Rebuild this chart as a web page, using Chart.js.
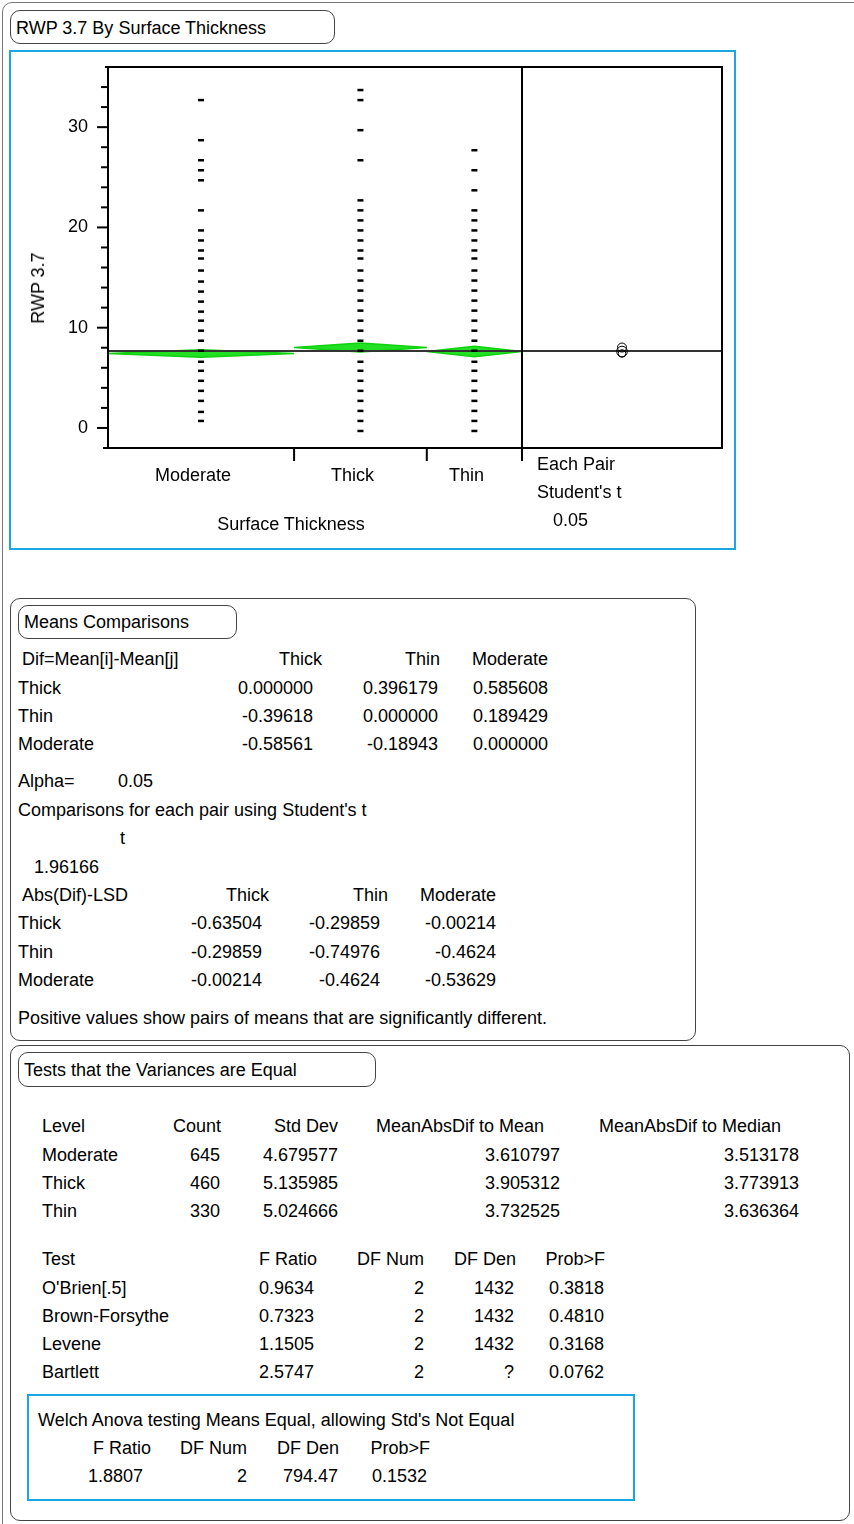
<!DOCTYPE html>
<html>
<head>
<meta charset="utf-8">
<script src="https://cdn.jsdelivr.net/npm/chart.js@4.4.1/dist/chart.umd.min.js"></script>
<style>
  body { margin: 0; background: #fff; }
  #page { position: relative; width: 854px; height: 1524px; overflow: hidden;
    font-family: 'Liberation Sans', Arial, sans-serif; font-size: 18px; color: #000; }
  .box { position: absolute; border: 1px solid #444; border-radius: 10px; box-sizing: border-box; }
  .blue { position: absolute; border: 2px solid #1aa6e2; box-sizing: border-box; }
  .t { position: absolute; white-space: nowrap; line-height: 1; }
  #grafico { position: absolute; left: 11px; top: 52px; }
</style>
</head>
<body>
<div id="page">
  <div class="box" style="left:2px;top:2px;width:900px;height:1600px;border-color:#777"></div>
  <div class="box" style="left:10px;top:10px;width:325px;height:34px"></div>
  <div class="blue" style="left:9px;top:50px;width:727px;height:500px"></div>
  <canvas id="grafico" width="722" height="495"></canvas>

  <div class="box" style="left:10px;top:598px;width:686px;height:443px"></div>
  <div class="box" style="left:18px;top:605px;width:219px;height:34px"></div>

  <div class="box" style="left:10px;top:1045px;width:840px;height:476px"></div>
  <div class="box" style="left:18px;top:1052px;width:358px;height:35px"></div>
  <div class="blue" style="left:27px;top:1394px;width:608px;height:107px"></div>
</div>
<script>
// ── Dados ───────────────────────────────────────────────────────────────────

const levels = ['Moderate', 'Thick', 'Thin']
const counts = [645, 460, 330]
const levelMeans = [7.43, 8.02, 7.62] // (coerentes com a tabela Dif)
const tValue = 1.96166
const stdDevs = [4.679577, 5.135985, 5.024666]

const moderateValues = [32.7, 28.7, 26.7, 25.7, 24.7, 21.7, 19.7, 18.7, 17.7, 16.9,
  15.7, 14.6, 13.6, 12.6, 11.6, 10.7, 9.7, 8.7, 7.7, 6.6, 5.7, 4.7, 3.7, 2.7, 1.6, 0.7]
const thickValues = [33.7, 32.7, 29.7, 26.7, 22.7, 21.7, 20.7, 19.7, 18.7, 17.7, 16.9,
  15.7, 14.7, 13.7, 12.7, 11.7, 10.7, 9.7, 8.7, 7.7, 6.6, 5.7, 4.7, 3.7, 2.7, 1.7, 0.7, -0.3]
const thinValues = [27.7, 25.7, 23.7, 21.7, 20.7, 19.7, 18.7, 17.7, 16.9, 15.7, 14.7,
  13.7, 12.7, 11.7, 10.7, 9.7, 8.7, 7.7, 6.6, 5.7, 4.7, 3.7, 2.7, 1.7, 0.7, -0.3]

const yMin = -2
const yMax = 36
const yStep = 2

// tabelas
const difCols = ['Thick', 'Thin', 'Moderate']
const difRows = [
  ['Thick', '0.000000', '0.396179', '0.585608'],
  ['Thin', '-0.39618', '0.000000', '0.189429'],
  ['Moderate', '-0.58561', '-0.18943', '0.000000'],
]
const lsdRows = [
  ['Thick', '-0.63504', '-0.29859', '-0.00214'],
  ['Thin', '-0.29859', '-0.74976', '-0.4624'],
  ['Moderate', '-0.00214', '-0.4624', '-0.53629'],
]
const varCols = ['Level', 'Count', 'Std Dev', 'MeanAbsDif to Mean', 'MeanAbsDif to Median']
const varRows = [
  ['Moderate', '645', '4.679577', '3.610797', '3.513178'],
  ['Thick', '460', '5.135985', '3.905312', '3.773913'],
  ['Thin', '330', '5.024666', '3.732525', '3.636364'],
]
const testCols = ['Test', 'F Ratio', 'DF Num', 'DF Den', 'Prob>F']
const testRows = [
  ["O'Brien[.5]", '0.9634', '2', '1432', '0.3818'],
  ['Brown-Forsythe', '0.7323', '2', '1432', '0.4810'],
  ['Levene', '1.1505', '2', '1432', '0.3168'],
  ['Bartlett', '2.5747', '2', '?', '0.0762'],
]
const welchCols = ['F Ratio', 'DF Num', 'DF Den', 'Prob>F']
const welchRow = ['1.8807', '2', '794.47', '0.1532']

// ── Textos ──────────────────────────────────────────────────────────────────

const page = document.getElementById('page')

function put(text, x, y, align = 'l', extra = '') {
  const el = document.createElement('div')
  el.className = 't'
  el.textContent = text
  const dx = align === 'r' ? '-100%' : align === 'c' ? '-50%' : '0'
  el.style.left = x + 'px'
  el.style.top = y + 'px'
  el.style.transform = `translate(${dx}, -50%) ${extra}`
  page.appendChild(el)
}

put('RWP 3.7 By Surface Thickness', 16, 28)
put('RWP 3.7', 38, 288, 'c', 'rotate(-90deg)')
put('Surface Thickness', 291, 524, 'c')
put('Each Pair', 537, 464)
put("Student's t", 537, 492)
put('0.05', 553, 520)

put('Means Comparisons', 24, 622)
put('Dif=Mean[i]-Mean[j]', 22, 659)
;[322, 440, 548].forEach((x, i) => put(difCols[i], x, 659, 'r'))
difRows.forEach((row, r) => {
  const y = 688 + r * 28
  put(row[0], 18, y)
  ;[313, 438, 548].forEach((x, i) => put(row[i + 1], x, y, 'r'))
})
put('Alpha=', 18, 781)
put('0.05', 118, 781)
put("Comparisons for each pair using Student's t", 18, 810)
put('t', 120, 838)
put(String(tValue), 34, 867)
put('Abs(Dif)-LSD', 22, 895)
;[269, 388, 496].forEach((x, i) => put(difCols[i], x, 895, 'r'))
lsdRows.forEach((row, r) => {
  const y = 923 + r * 28.5
  put(row[0], 18, y)
  ;[262, 380, 496].forEach((x, i) => put(row[i + 1], x, y, 'r'))
})
put('Positive values show pairs of means that are significantly different.', 18, 1018)

put('Tests that the Variances are Equal', 24, 1070)
put(varCols[0], 42, 1126)
;[221, 338, 544, 781].forEach((x, i) => put(varCols[i + 1], x, 1126, 'r'))
varRows.forEach((row, r) => {
  const y = 1155 + r * 28
  put(row[0], 42, y)
  ;[220, 338, 560, 799].forEach((x, i) => put(row[i + 1], x, y, 'r'))
})
put(testCols[0], 42, 1259)
;[317, 424, 516, 605].forEach((x, i) => put(testCols[i + 1], x, 1259, 'r'))
testRows.forEach((row, r) => {
  const y = 1288 + r * 28
  put(row[0], 42, y)
  ;[314, 424, 514, 604].forEach((x, i) => put(row[i + 1], x, y, 'r'))
})
put("Welch Anova testing Means Equal, allowing Std's Not Equal", 38, 1420)
;[151, 247, 339, 430].forEach((x, i) => put(welchCols[i], x, 1448, 'r'))
;[143, 247, 338, 427].forEach((x, i) => put(welchRow[i], x, 1476, 'r'))

// ── Gráfico ─────────────────────────────────────────────────────────────────

const total = counts.reduce((a, b) => a + b, 0)
const paneWidth = total * 200 / 414 // painel "Each Pair" à direita
const xMax = total + paneWidth

const starts = counts.map((_, i) => counts.slice(0, i).reduce((a, b) => a + b, 0))
const centers = counts.map((n, i) => starts[i] + n / 2)

const pooledSD = Math.sqrt(
  counts.reduce((s, n, i) => s + (n - 1) * stdDevs[i] ** 2, 0) / (total - counts.length),
)
const halfCI = counts.map((n) => tValue * pooledSD / Math.sqrt(n))
const grandMean = counts.reduce((s, n, i) => s + n * levelMeans[i], 0) / total

const allValues = [moderateValues, thickValues, thinValues]

const pointSets = allValues.map((vals, i) => ({
  type: 'scatter',
  data: vals.map((v) => ({ x: centers[i], y: v })),
  pointStyle: 'line',
  pointRadius: 3,
  pointBorderWidth: 2.5,
  borderColor: '#000',
  order: 0,
}))

const diamondSets = levelMeans.map((m, i) => {
  const a = starts[i]
  const b = starts[i] + counts[i]
  const c = centers[i]
  const h = halfCI[i]
  return {
    type: 'line',
    data: [
      { x: a, y: m }, { x: c, y: m + h }, { x: b, y: m }, { x: c, y: m - h }, { x: a, y: m },
    ],
    borderColor: '#10d010',
    backgroundColor: '#22e022',
    borderWidth: 1.5,
    pointRadius: 0,
    tension: 0,
    fill: 'shape',
    order: 2,
  }
})

const grandMeanSet = {
  type: 'line',
  data: [{ x: 0, y: grandMean }, { x: xMax, y: grandMean }],
  borderColor: '#333',
  borderWidth: 2,
  pointRadius: 0,
  order: 1,
}

const circleSet = {
  type: 'scatter',
  data: levelMeans.map((m) => ({ x: total + paneWidth / 2, y: m })),
  pointStyle: 'circle',
  pointRadius: (ctx) => {
    const y = ctx.chart.scales.y
    if (!y) return 4
    return Math.abs(y.getPixelForValue(0) - y.getPixelForValue(halfCI[ctx.dataIndex]))
  },
  pointBorderWidth: 1,
  borderColor: '#000',
  backgroundColor: 'rgba(0,0,0,0)',
  order: 0,
}

// moldura, marcas do eixo y e divisões das categorias
const moldura = {
  id: 'moldura',
  afterDraw(chart) {
    const { ctx, chartArea: a, scales: { x, y } } = chart
    const line = (x1, y1, x2, y2) => {
      ctx.beginPath()
      ctx.moveTo(x1, y1)
      ctx.lineTo(x2, y2)
      ctx.stroke()
    }
    ctx.save()
    ctx.strokeStyle = '#000'
    ctx.lineWidth = 2
    ctx.strokeRect(a.left, a.top, a.right - a.left, a.bottom - a.top)
    line(a.left - 5, a.bottom, a.left, a.bottom)
    line(a.left - 3, a.top, a.left, a.top)
    y.ticks.forEach((t) => {
      if (t.value < 0 || t.value >= yMax) return
      const py = y.getPixelForValue(t.value)
      const len = t.value % 10 === 0 ? 11 : 7
      line(a.left - len, py, a.left, py)
    })
    counts.forEach((n, i) => {
      const cum = starts[i] + n
      const px = x.getPixelForValue(cum)
      line(px, cum === total ? a.top : a.bottom, px, a.bottom + 13)
    })
    ctx.restore()
  },
}

const fonte = { family: "'Liberation Sans', Arial, sans-serif", size: 18 }

// sem folgas automáticas: a área do gráfico fica exatamente onde o layout manda
const semFolga = (s) => {
  s.paddingTop = 0
  s.paddingBottom = 0
  s.paddingLeft = 0
  s.paddingRight = 0
}

new Chart(document.getElementById('grafico'), {
  data: {
    datasets: [...pointSets, circleSet, grandMeanSet, ...diamondSets],
  },
  options: {
    responsive: false,
    animation: false,
    layout: { padding: { left: 0, right: 11, top: 15, bottom: 0 } },
    plugins: { legend: { display: false }, tooltip: { enabled: false } },
    scales: {
      x: {
        type: 'linear',
        min: 0,
        max: xMax,
        grid: { display: false, drawTicks: false },
        border: { display: false },
        afterBuildTicks: (s) => {
          s.ticks = centers.map((v) => ({ value: v }))
        },
        afterFit: (s) => {
          s.height = 99
          semFolga(s)
        },
        ticks: {
          autoSkip: false,
          maxRotation: 0,
          padding: 17,
          labelOffset: -8,
          color: '#000',
          font: fonte,
          callback: (v, i) => levels[i],
        },
      },
      y: {
        type: 'linear',
        min: yMin,
        max: yMax,
        grid: { display: false, drawTicks: false },
        border: { display: false },
        afterBuildTicks: (s) => {
          const ticks = []
          for (let v = 0; v < yMax; v += yStep) ticks.push({ value: v })
          s.ticks = ticks
        },
        afterFit: (s) => {
          s.width = 97
          semFolga(s)
        },
        ticks: {
          autoSkip: false,
          padding: 20,
          color: '#000',
          font: fonte,
          callback: (v) => (v % 10 === 0 ? String(v) : ''),
        },
      },
    },
  },
  plugins: [moldura],
})
</script>
</body>
</html>
